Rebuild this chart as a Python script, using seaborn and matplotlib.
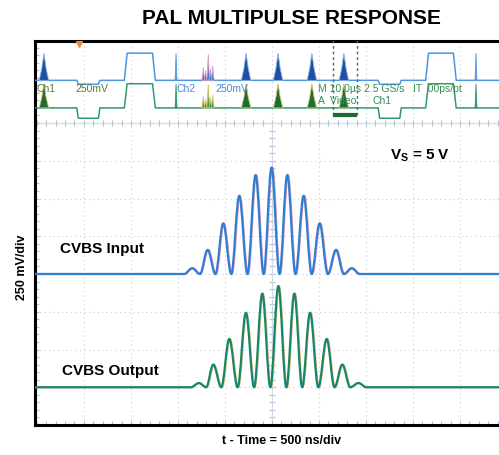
import numpy as np
import matplotlib
matplotlib.use("Agg")
import matplotlib.pyplot as plt
from matplotlib.path import Path
from matplotlib.patches import PathPatch
from matplotlib.ticker import MultipleLocator, NullFormatter
import seaborn as sns

# ==============================================
# DATOS (leidos del osciloscopio)
# ==============================================
# entrada CVBS: valles y picos de cada lobulo (ns, mV sobre el reposo)
in_t_ns = [-2600, -935, -848, -766, -684, -601, -518, -433, -348, -261, -174, -89, -4,
           80, 163, 250, 337, 422, 507, 594, 681, 764, 848, 933, 2600]
in_mv = [0, 0, 38, 0, 160, 0, 335, 0, 518, 0, 655, 0, 705,
         0, 655, 0, 518, 0, 335, 0, 160, 0, 38, 0, 0]

# salida CVBS
out_t_ns = [-2600, -862, -777, -700, -624, -539, -454, -365, -277, -190, -103, -17, 68,
            153, 238, 321, 405, 493, 582, 665, 748, 833, 919, 1004, 2600]
out_mv = [0, 0, 28, 0, 150, 0, 320, 0, 493, 0, 620, 0, 670,
          0, 620, 0, 493, 0, 320, 0, 150, 0, 28, 0, 0]

# vista general (linea completa, us / mV)
ov_t_us = [-51, -41.5, -41.2, -36.9, -36.6, -31.4, -30.8, -25.4, -24.8,
           22.6, 22.9, 27.2, 27.5, 32.7, 33.3, 38.6, 39.2, 51]
ov_ch1_mv = [0, 0, -100, -100, 0, 0, 700, 700, 0, 0, -100, -100, 0, 0, 700, 700, 0, 0]
ov_ch2_mv = [0, 0, -300, -300, 0, 0, 700, 700, 0, 0, -300, -300, 0, 0, 700, 700, 0, 0]

burst_t_us = [-48.5, -5.5, 1.3, 8.5, 15.3]
burst_mv = [700, 700, 700, 700, 700]
spike_t_us = [-20.4, 43.4]
spike_mv = [700, 700]
cluster_t_us = [-14.6, -14.1, -13.55, -13.1, -12.6]
cluster_mv = [330, 250, 675, 300, 375]

zoom_win_us = [13.0, 18.0]
trigger_us = -41.1

# ==============================================
# ESCALAS Y ESTILO
# ==============================================
NS_PER_DIV = 500.0
US_PER_DIV = 10.0
MV_PER_DIV = 250.0
IN_BASE, OUT_BASE = 4.0, 1.0
OV1_BASE, OV2_BASE = 9.13, 8.40
OV1_K, OV2_K = 0.72 / 700, 0.64 / 700

C_IN, C_IN_SH = '#2f7ed3', '#f0a0b8'
C_OUT, C_OUT_SH = '#16876c', '#f2bf78'
C_OV1, C_OV1_F = '#4c96e4', '#1d4fa3'
C_OV2, C_OV2_F = '#2f9a6c', '#1f6c36'
C_GRID = '#c3d0de'

sns.set_theme(style='white')
plt.rcParams['font.family'] = ['Liberation Sans', 'DejaVu Sans']
plt.rcParams['text.color'] = 'black'
plt.rcParams['mathtext.fontset'] = 'custom'
plt.rcParams['mathtext.bf'] = 'Liberation Sans:bold'
plt.rcParams['mathtext.rm'] = 'Liberation Sans'

W, H = 499, 456
fig = plt.figure(figsize=(W / 100, H / 100), dpi=100)
fig.patch.set_facecolor('white')
ax = fig.add_axes([35 / W, 30 / H, 472 / W, 384 / H])
ax.set_xlim(-5.04, 5.0)
ax.set_ylim(0, 384 / 37.75)
ax.set_facecolor('white')

# reticula
for gx in range(-4, 5):
    ax.axvline(gx, color=C_GRID, lw=0.8, ls=(0, (1, 3)), zorder=0)
for gy in range(1, 8):
    ax.axhline(gy, color=C_GRID, lw=0.8, ls=(0, (1, 3)), zorder=0)
ax.axhline(8, color='#d6dde6', lw=1.0, zorder=0)
ticks_y = np.arange(0.2, 8, 0.2)
ax.plot(np.zeros_like(ticks_y), ticks_y, ls='none', marker='_', ms=5, color='#b5c3d3', mew=0.8, zorder=0)
ticks_x = np.arange(-5, 5, 0.2)
ax.plot(ticks_x, np.full_like(ticks_x, 8), ls='none', marker='|', ms=4, color='#b5c3d3', mew=0.8, zorder=0)
ax.axvline(0, ymax=8 / ax.get_ylim()[1], color='#d0d9e3', lw=0.8, zorder=0)

# ejes tipo pantalla
ax.set_xticks([])
ax.set_yticks([])
ax.xaxis.set_minor_locator(MultipleLocator(0.2))
ax.yaxis.set_minor_locator(MultipleLocator(0.2))
ax.xaxis.set_minor_formatter(NullFormatter())
ax.yaxis.set_minor_formatter(NullFormatter())
ax.tick_params(which='minor', direction='in', length=3, width=0.8, color='#a9c0dc',
               bottom=True, left=True, top=False, right=False)
for side in ['left', 'top', 'bottom']:
    ax.spines[side].set_color('black')
    ax.spines[side].set_linewidth(2.2)
ax.spines['right'].set_visible(False)


def traza_suave(xs, ys, color, lw, dx=0.0, z=4):
    """Une valles y picos con curvas de tangente horizontal (forma de onda)"""
    verts = [(xs[0] + dx, ys[0])]
    codes = [Path.MOVETO]
    for i in range(1, len(xs)):
        x0, x1 = xs[i - 1] + dx, xs[i] + dx
        d = (x1 - x0) * 0.364
        verts += [(x0 + d, ys[i - 1]), (x1 - d, ys[i]), (x1, ys[i])]
        codes += [Path.CURVE4] * 3
    ax.add_patch(PathPatch(Path(verts, codes), fill=False, edgecolor=color, lw=lw,
                           capstyle='round', joinstyle='round', zorder=z))


# trazas principales
x_in = np.array(in_t_ns) / NS_PER_DIV
y_in = IN_BASE + np.array(in_mv) / MV_PER_DIV
x_out = np.array(out_t_ns) / NS_PER_DIV
y_out = OUT_BASE + np.array(out_mv) / MV_PER_DIV

traza_suave(x_in, y_in, C_IN_SH, 1.5, dx=0.014, z=3)
traza_suave(x_in, y_in, C_IN, 1.6)
traza_suave(x_out, y_out, C_OUT_SH, 1.5, dx=0.014, z=3)
traza_suave(x_out, y_out, C_OUT, 1.6)

# vista general de la linea
ov_x = np.array(ov_t_us) / US_PER_DIV
sns.lineplot(x=ov_x, y=OV1_BASE + np.array(ov_ch1_mv) * OV1_K, ax=ax, color=C_OV1, lw=1.1,
             sort=False, estimator=None, zorder=3)
sns.lineplot(x=ov_x, y=OV2_BASE + np.array(ov_ch2_mv) * OV2_K, ax=ax, color=C_OV2, lw=1.1,
             sort=False, estimator=None, zorder=3)


def pulso(t_us, mv, half_us, base, k, fc, ec):
    xs = np.array([t_us - half_us, t_us - half_us * 0.45, t_us, t_us + half_us * 0.45, t_us + half_us]) / US_PER_DIV
    ys = base + np.array([0, 0.45, 1.0, 0.45, 0]) * mv * k
    ax.fill(xs, ys, facecolor=fc, edgecolor=ec, lw=0.6, zorder=4)


for t, v in zip(burst_t_us, burst_mv):
    pulso(t, v, 1.0, OV1_BASE, OV1_K, C_OV1_F, '#8fb0e6')
    pulso(t, v, 1.0, OV2_BASE, OV2_K, C_OV2_F, '#cfc46a')
for t, v in zip(spike_t_us, spike_mv):
    pulso(t, v, 0.2, OV1_BASE, OV1_K, C_OV1, C_OV1)
    pulso(t, v, 0.2, OV2_BASE, OV2_K, C_OV2_F, C_OV2)
for t, v in zip(cluster_t_us, cluster_mv):
    pulso(t, v, 0.3, OV1_BASE, OV1_K, '#3f74c8', '#d9a0c0')
    pulso(t, v, 0.3, OV2_BASE, OV2_K, '#3f8a4a', '#d8c060')

# ventana de zoom y disparo
zx = np.array(zoom_win_us) / US_PER_DIV
for v in zx:
    ax.plot([v, v], [8.2, 10.2], color='#2f7a4a', lw=1.0, ls=(0, (2, 2)), zorder=5)
ax.plot(zx, [8.2, 8.2], color='#1f6a30', lw=3.0, solid_capstyle='butt', zorder=5)
ax.plot([trigger_us / US_PER_DIV], [10.1], marker='v', color='#f08a30', ms=5, zorder=6)

# textos de la pantalla
fs_ov = 7.5
ax.text(-5.0, 8.93, 'Ch1', color='#4f7d3c', fontsize=fs_ov, va='center', zorder=6)
ax.text(-4.19, 8.93, '250mV', color='#4f7d3c', fontsize=fs_ov, va='center', zorder=6)
ax.text(-2.02, 8.93, 'Ch2', color='#4a86d8', fontsize=fs_ov, va='center', zorder=6)
ax.text(-1.21, 8.93, '250mV', color='#4a86d8', fontsize=fs_ov, va='center', zorder=6)
ax.text(0.98, 8.93, 'M 10.0µs 2.5 GS/s', color='#3a8c55', fontsize=fs_ov, va='center', zorder=6)
ax.text(3.0, 8.93, 'IT  00ps/pt', color='#3a8c55', fontsize=fs_ov, va='center', zorder=6)
ax.text(0.98, 8.62, 'A  Video', color='#3a8c55', fontsize=fs_ov, va='center', zorder=6)
ax.text(2.13, 8.62, 'Ch1', color='#3a8c55', fontsize=fs_ov, va='center', zorder=6)

ax.text(-4.51, 4.69, 'CVBS Input', color='black', fontsize=11, fontweight='bold', va='center', zorder=6)
ax.text(-4.47, 1.46, 'CVBS Output', color='black', fontsize=11, fontweight='bold', va='center', zorder=6)
ax.text(2.51, 7.15, r'$\mathbf{V_S}$ = 5 V', color='black', fontsize=11, fontweight='bold',
        va='center', zorder=6)

# titulos
fig.text(291 / W, 1 - 18 / H, 'PAL MULTIPULSE RESPONSE', ha='center', va='center',
         color='black', fontsize=15, fontweight='bold')
fig.text(282 / W, 1 - 441 / H, 't - Time = 500 ns/div', ha='center', va='center',
         color='black', fontsize=9, fontweight='bold')
fig.text(22 / W, 1 - 267 / H, '250 mV/div', ha='center', va='center', rotation=90,
         color='black', fontsize=9, fontweight='bold')

fig.savefig('out.png', dpi=100)
